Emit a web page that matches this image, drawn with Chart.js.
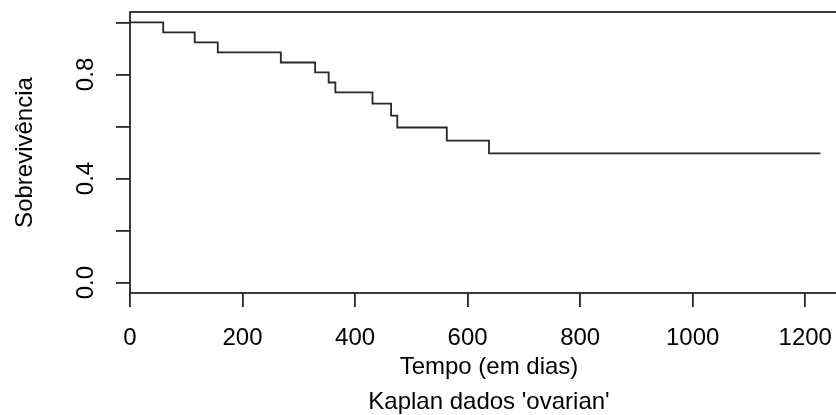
<!DOCTYPE html>
<html>
<head>
<meta charset="utf-8">
<script src="https://cdn.jsdelivr.net/npm/chart.js@4.4.1/dist/chart.umd.min.js"></script>
<style>
  html, body { margin: 0; padding: 0; background: #fff; overflow: hidden; }
  #wrap { width: 836px; height: 415px; overflow: hidden; }
</style>
</head>
<body>
<div id="wrap"><canvas id="kmCanvas" width="870" height="415"></canvas></div>
<script>
// Kaplan-Meier, dados 'ovarian'
const tempos = [0, 59, 115, 156, 268, 329, 353, 365, 431, 464, 475, 563, 638, 1227];
const sobrevivencia = [1, 0.962, 0.923, 0.885, 0.846, 0.808, 0.769, 0.731, 0.688, 0.642, 0.596, 0.546, 0.497, 0.497];
const xTicks = [0, 200, 400, 600, 800, 1000, 1200];
const yTicks = [0, 0.2, 0.4, 0.6, 0.8, 1.0];
const yLabeled = [0, 0.4, 0.8];

const fonte = { family: "'Liberation Sans', Arial, sans-serif", size: 24 };
const cor = '#262626';

// moldura da área do gráfico (box do R)
const moldura = {
    id: 'moldura',
    afterDatasetsDraw(chart) {
        const a = chart.chartArea;
        const ctx = chart.ctx;
        ctx.save();
        ctx.strokeStyle = cor;
        ctx.lineWidth = 1.8;
        ctx.strokeRect(Math.round(a.left), Math.round(a.top),
            Math.round(a.right - a.left), Math.round(a.bottom - a.top));
        ctx.restore();
    }
};

const semPadding = s => {
    s.paddingTop = 0;
    s.paddingBottom = 0;
    s.paddingLeft = 0;
    s.paddingRight = 0;
};

const ctx = document.getElementById('kmCanvas').getContext('2d');
const kmChart = new Chart(ctx, {
    type: 'line',
    data: {
        datasets: [{
            data: tempos.map((t, i) => ({ x: t, y: sobrevivencia[i] })),
            stepped: true,
            borderColor: cor,
            borderWidth: 1.8,
            pointRadius: 0,
            fill: false
        }]
    },
    options: {
        responsive: false,
        animation: false,
        events: [],
        layout: { padding: { top: 12, right: 22, left: 0, bottom: 0 } },
        plugins: { legend: { display: false }, tooltip: { enabled: false } },
        scales: {
            x: {
                type: 'linear',
                min: 0,
                max: 1276,
                afterBuildTicks: s => { s.ticks = xTicks.map(v => ({ value: v })); },
                afterFit: s => { s.height = 122; semPadding(s); },
                border: { display: false },
                grid: { drawOnChartArea: false, drawTicks: true, tickLength: 14, color: cor, lineWidth: 1.8 },
                ticks: {
                    autoSkip: false,
                    maxRotation: 0,
                    padding: 17,
                    color: '#000',
                    font: fonte,
                    callback: v => String(v)
                },
                title: {
                    display: true,
                    text: ['Tempo (em dias)', "Kaplan dados 'ovarian'"],
                    color: '#000',
                    font: { ...fonte, lineHeight: 1.45 },
                    padding: { top: 0, bottom: -5 }
                }
            },
            y: {
                type: 'linear',
                min: -0.04,
                max: 1.04,
                afterBuildTicks: s => { s.ticks = yTicks.map(v => ({ value: v })); },
                afterFit: s => { s.width = 130; semPadding(s); },
                border: { display: false },
                grid: { drawOnChartArea: false, drawTicks: true, tickLength: 14, color: cor, lineWidth: 1.8 },
                ticks: {
                    autoSkip: false,
                    minRotation: 90,
                    maxRotation: 90,
                    crossAlign: 'center',
                    padding: 13,
                    color: '#000',
                    font: fonte,
                    callback: v => yLabeled.some(l => Math.abs(l - v) < 1e-9) ? v.toFixed(1) : ''
                },
                title: {
                    display: true,
                    text: 'Sobrevivência',
                    color: '#000',
                    font: fonte,
                    padding: { top: 11, bottom: 0 }
                }
            }
        }
    },
    plugins: [moldura]
});
</script>
</body>
</html>
